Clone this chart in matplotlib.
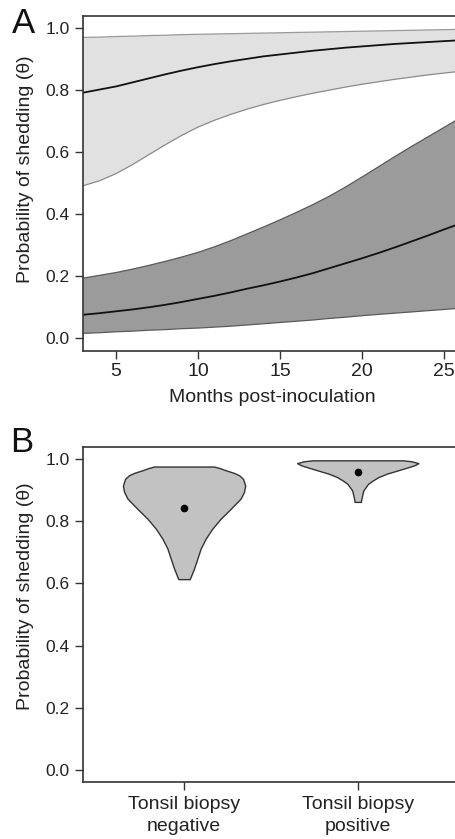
import matplotlib
matplotlib.use("Agg")
import matplotlib.pyplot as plt
import numpy as np

plt.rcParams['font.family'] = ['Liberation Sans', 'DejaVu Sans']

# ---- Panel A data ----
months = list(range(3, 27))
pos_upper = [0.970, 0.971, 0.973, 0.974, 0.976, 0.977, 0.979, 0.980, 0.981, 0.982, 0.983, 0.984,
             0.985, 0.986, 0.987, 0.988, 0.989, 0.990, 0.991, 0.992, 0.993, 0.994, 0.995, 0.996]
pos_mean = [0.792, 0.802, 0.812, 0.825, 0.838, 0.851, 0.863, 0.874, 0.884, 0.893, 0.901, 0.909,
            0.915, 0.921, 0.927, 0.932, 0.937, 0.941, 0.945, 0.949, 0.952, 0.955, 0.958, 0.961]
pos_lower = [0.492, 0.508, 0.531, 0.560, 0.592, 0.624, 0.654, 0.681, 0.703, 0.722, 0.739, 0.754,
             0.767, 0.779, 0.790, 0.800, 0.810, 0.819, 0.827, 0.835, 0.842, 0.849, 0.855, 0.861]
neg_upper = [0.194, 0.203, 0.212, 0.223, 0.235, 0.248, 0.262, 0.277, 0.295, 0.315, 0.337, 0.359,
             0.382, 0.406, 0.431, 0.458, 0.488, 0.520, 0.553, 0.586, 0.618, 0.649, 0.680, 0.711]
neg_mean = [0.076, 0.081, 0.087, 0.093, 0.100, 0.108, 0.117, 0.127, 0.137, 0.148, 0.160, 0.171,
            0.183, 0.196, 0.210, 0.226, 0.242, 0.258, 0.275, 0.293, 0.312, 0.331, 0.351, 0.370]
neg_lower = [0.016, 0.018, 0.021, 0.023, 0.026, 0.028, 0.031, 0.033, 0.036, 0.039, 0.043, 0.047,
             0.051, 0.055, 0.059, 0.064, 0.068, 0.073, 0.077, 0.081, 0.085, 0.089, 0.093, 0.097]
xticks_a = [5, 10, 15, 20, 25]

# ---- Panel B data ----
categories = ["Tonsil biopsy\nnegative", "Tonsil biopsy\npositive"]
cat_means = [0.843, 0.959]
neg_violin_y = [0.614, 0.649, 0.681, 0.713, 0.745, 0.777, 0.809, 0.841, 0.874, 0.895, 0.915,
                0.937, 0.949, 0.957, 0.965, 0.972, 0.977]
neg_violin_hw = [0.033, 0.058, 0.077, 0.096, 0.125, 0.163, 0.211, 0.269, 0.326, 0.345, 0.352,
                 0.340, 0.317, 0.285, 0.240, 0.205, 0.173]
pos_violin_y = [0.863, 0.868, 0.900, 0.921, 0.932, 0.943, 0.954, 0.962, 0.975, 0.981, 0.988,
                0.994, 0.997]
pos_violin_hw = [0.019, 0.019, 0.032, 0.059, 0.086, 0.119, 0.167, 0.215, 0.292, 0.326, 0.349,
                 0.31, 0.26]
yticks = [0.0, 0.2, 0.4, 0.6, 0.8, 1.0]

W, H = 455, 839
fig = plt.figure(figsize=(W / 100, H / 100), dpi=100)

spine_c = '#333333'
txt_c = '#222222'
fs = 14

def style(ax, width_px, label_y):
    for s in ax.spines.values():
        s.set_color(spine_c)
        s.set_linewidth(1.2)
    ax.tick_params(direction='out', length=6, width=1.0, color=spine_c,
                   labelsize=fs, labelcolor=txt_c, pad=3)
    ax.tick_params(axis='y', labelsize=12.5, pad=4)
    ax.set_ylim(-0.04, 1.04)
    ax.set_yticks(yticks)
    ax.set_yticklabels([f"{v:.1f}" for v in yticks])
    ax.set_ylabel("Probability of shedding (θ)", fontsize=fs, color=txt_c)
    ax.yaxis.set_label_coords((34 - 83.3) / width_px, label_y)

# Panel A
axA = fig.add_axes([83.3 / W, (H - 350.7) / H, 377.2 / W, 335 / H])
style(axA, 377.2, 0.543)
axA.fill_between(months, pos_lower, pos_upper, facecolor='#e1e1e1', edgecolor='none')
axA.plot(months, pos_upper, color='#9a9a9a', lw=0.9)
axA.plot(months, pos_lower, color='#8a8a8a', lw=0.9)
axA.fill_between(months, neg_lower, neg_upper, facecolor='#9b9b9b', edgecolor='none')
axA.plot(months, neg_upper, color='#5a5a5a', lw=0.9)
axA.plot(months, neg_lower, color='#5a5a5a', lw=0.9)
axA.plot(months, pos_mean, color='#111111', lw=1.3)
axA.plot(months, neg_mean, color='#111111', lw=1.3)
axA.set_xlim(3, 26)
axA.set_xticks(xticks_a)
axA.set_xlabel("Months post-inoculation", fontsize=fs, color=txt_c, labelpad=6)

# Panel B
axB = fig.add_axes([83.3 / W, (H - 782) / H, 375.2 / W, 335 / H])
style(axB, 375.2, 0.555)
positions = [1, 2]
for p, ys, hws in [(1, neg_violin_y, neg_violin_hw), (2, pos_violin_y, pos_violin_hw)]:
    ys = np.array(ys)
    hws = np.array(hws)
    axB.fill_betweenx(ys, p - hws, p + hws, facecolor='#c2c2c2', edgecolor='#333333', linewidth=1.0)
axB.plot(positions, cat_means, 'o', color='black', markersize=4.5, linestyle='none')
axB.set_xlim(0.42, 2.58)
axB.set_xticks(positions)
axB.set_xticklabels(categories, fontsize=fs, color=txt_c, linespacing=1.4)
axB.tick_params(axis='x', pad=4)

fig.text(12 / W, 1 - 33 / H, "A", fontsize=25, color='#111111', ha='left', va='baseline')
fig.text(10 / W, 1 - 452 / H, "B", fontsize=25, color='#111111', ha='left', va='baseline')

fig.savefig("out.png", dpi=100)
